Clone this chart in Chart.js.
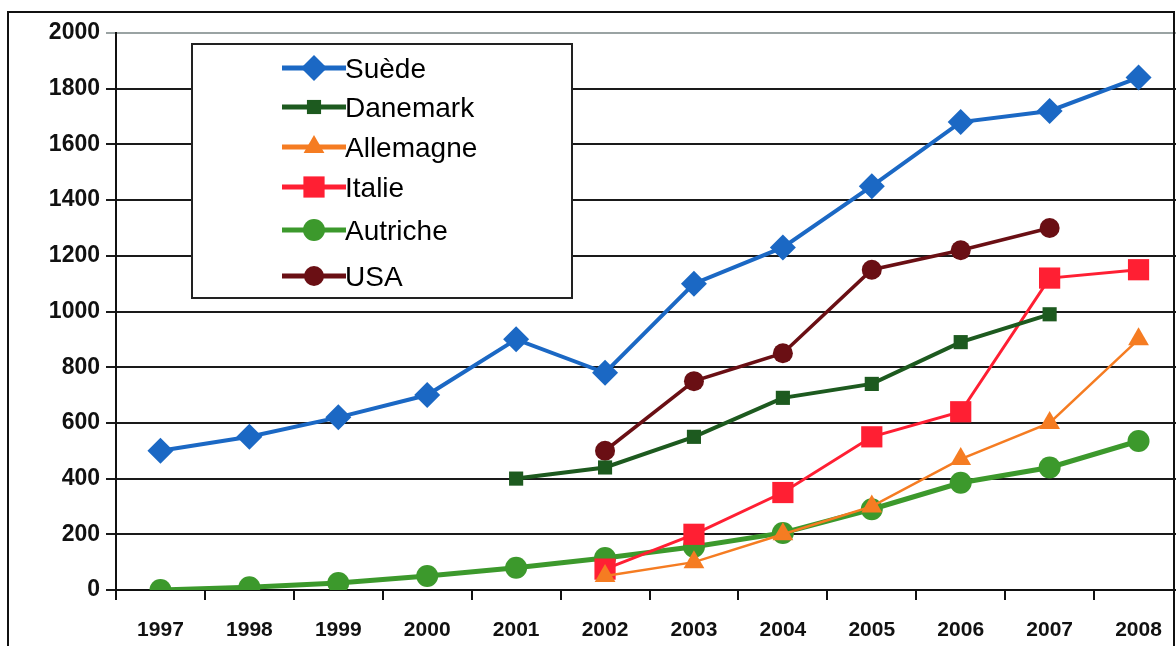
<!DOCTYPE html>
<html>
<head>
<meta charset="utf-8">
<script src="https://cdn.jsdelivr.net/npm/chart.js@4.4.1/dist/chart.umd.min.js"></script>
<style>
  html, body { margin: 0; padding: 0; background: #fff; overflow: hidden; }
  #wrap { width: 1176px; height: 646px; position: relative; overflow: hidden; }
</style>
</head>
<body>
<div id="wrap"><canvas id="chart" width="1198" height="646"></canvas></div>
<script>
const years = ['1997','1998','1999','2000','2001','2002','2003','2004','2005','2006','2007','2008']
const suede = [500, 550, 620, 700, 900, 780, 1100, 1230, 1450, 1680, 1720, 1840]
const danemark = [null, null, null, null, 400, 440, 550, 690, 740, 890, 990, null]
const allemagne = [null, null, null, null, null, 50, 100, 200, 300, 470, 600, 900]
const italie = [null, null, null, null, null, 75, 200, 350, 550, 640, 1120, 1150]
const autriche = [0, 10, 25, 50, 80, 115, 155, 205, 290, 385, 440, 535]
const usa = [null, null, null, null, null, 500, 750, 850, 1150, 1220, 1300, null]
const yTicks = [0, 200, 400, 600, 800, 1000, 1200, 1400, 1600, 1800, 2000]

function ds(label, data, color, width, style, radius) {
  return {
    label: label,
    data: data,
    borderColor: color,
    backgroundColor: color,
    borderWidth: width,
    pointStyle: style,
    pointRadius: radius,
    pointBorderWidth: 0,
    spanGaps: false,
    tension: 0
  }
}

const datasets = [
  ds('Suède', suede, '#1b68c4', 4, 'rectRot', 13),
  ds('Danemark', danemark, '#1d5a1f', 4, 'rect', 10),
  ds('Allemagne', allemagne, '#f57c22', 2.5, 'triangle', 12),
  ds('Italie', italie, '#ff1f33', 3, 'rect', 15),
  ds('Autriche', autriche, '#3c992c', 5, 'circle', 11),
  ds('USA', usa, '#6a0f14', 3.5, 'circle', 10)
]

// frame round the picture and the legend box inside the plot
const frameLegend = {
  id: 'frameLegend',
  afterDraw(chart) {
    const c = chart.ctx
    c.save()
    c.strokeStyle = '#111'
    c.lineWidth = 2
    c.strokeRect(8, 12, 1166, 640)
    // legend
    c.fillStyle = '#fff'
    c.fillRect(192, 44, 380, 254)
    c.strokeStyle = '#222'
    c.lineWidth = 2
    c.strokeRect(192, 44, 380, 254)
    const rows = [68, 107, 147, 187, 230, 276]
    chart.data.datasets.forEach((d, i) => {
      const y = rows[i]
      c.strokeStyle = d.borderColor
      c.lineWidth = Math.max(d.borderWidth, 5)
      c.beginPath()
      c.moveTo(282, y)
      c.lineTo(346, y)
      c.stroke()
      c.fillStyle = d.backgroundColor
      Chart.helpers.drawPoint(c, {pointStyle: d.pointStyle, radius: d.pointRadius, borderWidth: 0}, 314, y)
      c.fillStyle = '#000'
      c.font = '28px "Liberation Sans", Arial, sans-serif'
      c.textBaseline = 'middle'
      c.textAlign = 'left'
      c.fillText(d.label, 345, y + 2)
    })
    c.restore()
  }
}

new Chart(document.getElementById('chart'), {
  type: 'line',
  data: { labels: years, datasets: datasets },
  plugins: [frameLegend],
  options: {
    responsive: false,
    animation: false,
    layout: { padding: { top: 33, right: 0, left: 0, bottom: 0 } },
    plugins: { legend: { display: false }, tooltip: { enabled: false } },
    scales: {
      x: {
        offset: true,
        afterFit: s => { s.height = 56 },
        grid: { offset: true, drawOnChartArea: false, color: '#111', lineWidth: 2, tickLength: 10 },
        border: { display: true, color: '#111', width: 2 },
        ticks: {
          color: '#111',
          padding: 18,
          maxRotation: 0,
          font: { family: '"Liberation Sans", Arial, sans-serif', weight: 'bold', size: 21 }
        }
      },
      y: {
        min: 0,
        max: 2000,
        afterFit: s => { s.width = 116 },
        afterBuildTicks: s => { s.ticks = yTicks.map(v => ({ value: v })) },
        grid: {
          color: ctx => ctx.tick && ctx.tick.value === 2000 ? '#9aa3a3' : '#1a1a1a',
          lineWidth: 2,
          tickLength: 10
        },
        border: { display: true, color: '#111', width: 2 },
        ticks: {
          color: '#111',
          padding: 6,
          callback: v => String(v),
          font: { family: '"Liberation Sans", Arial, sans-serif', weight: 'bold', size: 23 }
        }
      }
    }
  }
})
</script>
</body>
</html>
